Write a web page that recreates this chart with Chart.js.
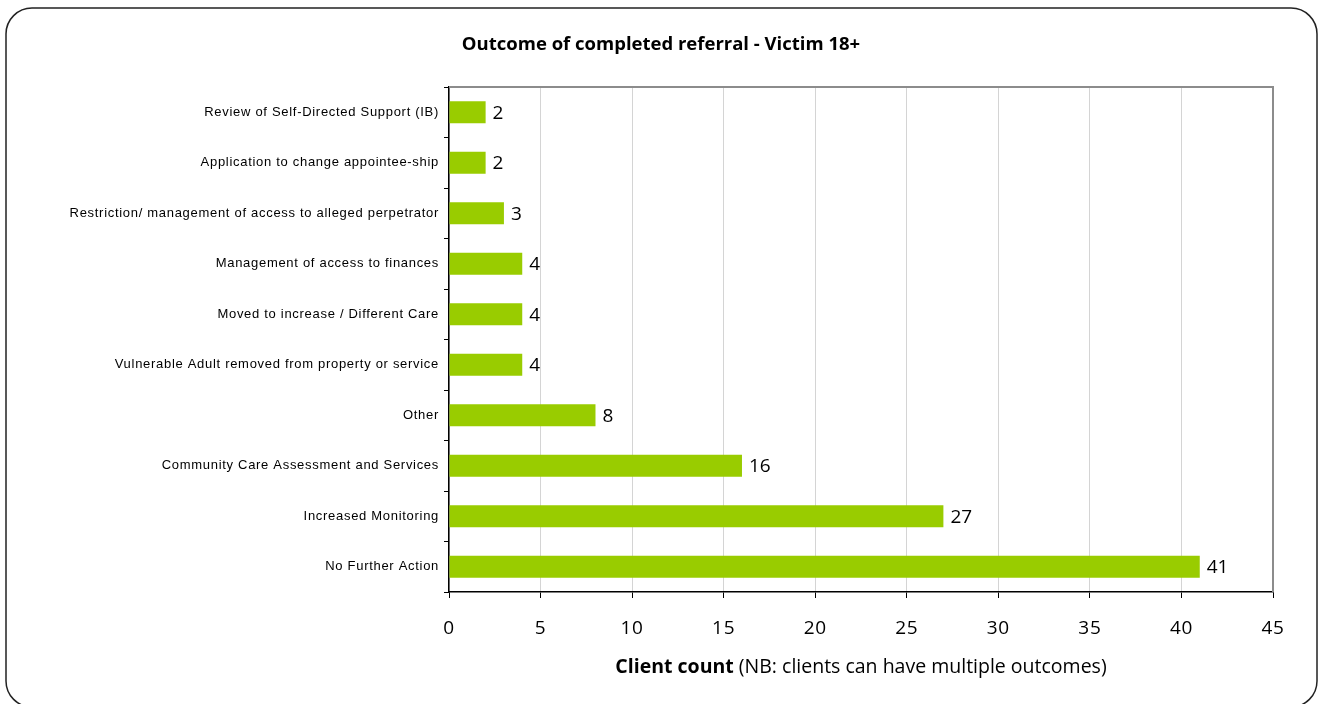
<!DOCTYPE html>
<html>
<head>
<meta charset="utf-8">
<script src="https://cdn.jsdelivr.net/npm/chart.js@4"></script>
<style>
  html, body { margin: 0; padding: 0; background: #fff; }
  #wrap { width: 1322px; height: 704px; position: relative; }
</style>
</head>
<body>
<div id="wrap"><canvas id="outcomeChart"></canvas></div>
<script>
const categories = [
  "Review of Self-Directed Support (IB)",
  "Application to change appointee-ship",
  "Restriction/ management of access to alleged perpetrator",
  "Management of access to finances",
  "Moved to increase / Different Care",
  "Vulnerable Adult removed from property or service",
  "Other",
  "Community Care Assessment and Services",
  "Increased Monitoring",
  "No Further Action"
];
const clientCounts = [2, 2, 3, 4, 4, 4, 8, 16, 27, 41];
const xTicks = [0, 5, 10, 15, 20, 25, 30, 35, 40, 45];
const chartTitle = "Outcome of completed referral - Victim 18+";
const axisTitleBold = "Client count";
const axisTitleRest = " (NB: clients can have multiple outcomes)";

const numFont = "'Open Sans', Lato, sans-serif";

// rounded frame, title, plot border
const framePlugin = {
  id: "frame",
  beforeDraw(chart) {
    const c = chart.ctx;
    c.save();
    c.fillStyle = "#fff";
    c.fillRect(0, 0, chart.width, chart.height);
    const x = 6, y = 8, w = 1311, h = 699, r = 26;
    c.beginPath();
    c.moveTo(x + r, y);
    c.arcTo(x + w, y, x + w, y + h, r);
    c.arcTo(x + w, y + h, x, y + h, r);
    c.arcTo(x, y + h, x, y, r);
    c.arcTo(x, y, x + w, y, r);
    c.closePath();
    c.lineWidth = 1.5;
    c.strokeStyle = "#222";
    c.stroke();

    c.fillStyle = "#000";
    c.font = "bold 18.5px " + numFont;
    c.textAlign = "center";
    c.textBaseline = "middle";
    c.fillText(chartTitle, chart.width / 2, 45);
    c.restore();
    // spread out the category labels a bit
    c.letterSpacing = "0.7px";
  },
  beforeDatasetsDraw(chart) {
    chart.ctx.letterSpacing = "0px";
  },
  afterDatasetsDraw(chart) {
    const c = chart.ctx;
    const a = chart.chartArea;
    c.save();
    c.letterSpacing = "0px";
    c.strokeStyle = "#8c8c8c";
    c.lineWidth = 2;
    c.beginPath();
    c.moveTo(a.left, a.top);
    c.lineTo(a.right, a.top);
    c.lineTo(a.right, a.bottom);
    c.stroke();

    // value labels
    const meta = chart.getDatasetMeta(0);
    c.fillStyle = "#000";
    c.font = "19px " + numFont;
    c.textAlign = "left";
    c.textBaseline = "middle";
    meta.data.forEach((bar, i) => {
      c.fillText(String(clientCounts[i]), bar.x + 7, bar.y + 1);
    });

    // axis title with bold part
    c.font = "bold 19.5px " + numFont;
    const wb = c.measureText(axisTitleBold).width;
    c.font = "19.5px " + numFont;
    const wr = c.measureText(axisTitleRest).width;
    const cx = (a.left + a.right) / 2;
    let sx = cx - (wb + wr) / 2;
    c.font = "bold 19.5px " + numFont;
    c.fillText(axisTitleBold, sx, 667);
    c.font = "19.5px " + numFont;
    c.fillText(axisTitleRest, sx + wb, 667);
    c.restore();
  },
  afterDraw(chart) {
    chart.ctx.letterSpacing = "0px";
  }
};

new Chart(document.getElementById("outcomeChart"), {
  type: "bar",
  data: {
    labels: categories,
    datasets: [{
      data: clientCounts,
      backgroundColor: "#99cc00",
      borderWidth: 0,
      barPercentage: 0.44,
      categoryPercentage: 1
    }]
  },
  options: {
    indexAxis: "y",
    responsive: true,
    maintainAspectRatio: false,
    animation: false,
    layout: { padding: { left: 0, right: 49, top: 87, bottom: 0 } },
    plugins: {
      legend: { display: false },
      title: { display: false },
      tooltip: { enabled: false }
    },
    scales: {
      x: {
        min: 0,
        max: 45,
        afterBuildTicks: (axis) => { axis.ticks = xTicks.map(v => ({ value: v })); },
        afterFit: (axis) => { axis.height = 112; },
        grid: { color: "#d4d4d4", tickColor: "#000", tickLength: 6, lineWidth: 1 },
        border: { color: "#000", width: 1.5 },
        ticks: { color: "#000", font: { family: numFont, size: 19 }, padding: 19 }
      },
      y: {
        afterFit: (axis) => { axis.width = 449; },
        grid: { drawOnChartArea: false, tickColor: "#000", tickLength: 5, offset: true },
        border: { color: "#000", width: 1.5 },
        ticks: { color: "#000", font: { family: "'Liberation Sans', Arial, sans-serif", size: 13 }, padding: 5 }
      }
    }
  },
  plugins: [framePlugin]
});
</script>
</body>
</html>
